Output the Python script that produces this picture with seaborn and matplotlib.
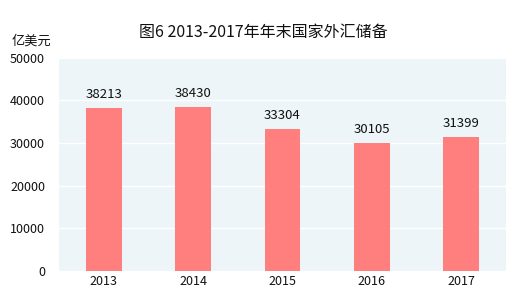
import matplotlib
matplotlib.use("Agg")
import matplotlib.pyplot as plt
import seaborn as sns
import pandas as pd

years = ["2013", "2014", "2015", "2016", "2017"]
reserves = [38213, 38430, 33304, 30105, 31399]
yticks = [0, 10000, 20000, 30000, 40000, 50000]

sns.set_theme(style="white")
plt.rcParams['font.family'] = ['Noto Sans CJK SC', 'DejaVu Sans']

df = pd.DataFrame({"year": years, "value": reserves})

fig = plt.figure(figsize=(5.27, 3.0), dpi=100)
ax = fig.add_axes([0.112, 0.097, 0.848, 0.710])
ax.set_facecolor("#EDF5F8")
sns.barplot(data=df, x="year", y="value", color="#FF7F7F", saturation=1,
            width=0.4, ax=ax, zorder=3, linewidth=0, edgecolor="none")
ax.set_ylim(0, 50000)
ax.set_yticks(yticks)
ax.set_yticklabels([str(v) for v in yticks], fontsize=9, color="#111111")
ax.tick_params(axis='x', labelsize=9, length=0, pad=3, labelcolor="#111111")
ax.tick_params(axis='y', length=0, pad=10)
ax.yaxis.grid(True, color="white", linewidth=1, zorder=1)
ax.set_axisbelow(True)
for s in ax.spines.values():
    s.set_visible(False)
ax.set_xlabel("")
ax.set_ylabel("")
for c in ax.containers:
    ax.bar_label(c, labels=[str(v) for v in reserves], padding=5, fontsize=9.5, color="#111111")

fig.text(0.5, 0.893, "图6 2013-2017年年末国家外汇储备", ha="center", va="center",
         fontsize=11.5, color="#111111")
fig.text(0.022, 0.862, "亿美元", ha="left", va="center", fontsize=9.5, color="#111111")

fig.savefig("out.png", dpi=100)
